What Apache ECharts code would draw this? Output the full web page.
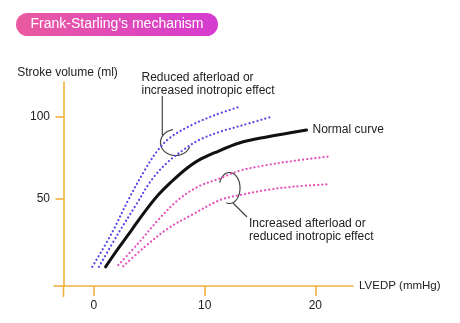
<!DOCTYPE html>
<html><head><meta charset="utf-8">
<script src="https://cdn.jsdelivr.net/npm/echarts@6/dist/echarts.min.js"></script>
<style>html,body{margin:0;padding:0;background:#fff}#c{width:460px;height:323px}</style>
</head><body><div id="c"></div>
<script>
const titleText = "Frank-Starling's mechanism";
const xAxisName = 'LVEDP (mmHg)';
const yAxisName = 'Stroke volume (ml)';
const xTicks = [0, 10, 20];
const yTicks = [50, 100];

const normalX = [1.05, 2.2, 3.4, 4.6, 5.8, 7.0, 8.2, 9.4, 10.9, 13.2, 15.6, 19.2];
const normalY = [8.7, 19.9, 31.1, 42.3, 52.4, 60.5, 67.7, 73.4, 78.2, 84.3, 87.8, 92.1];

const blueOuterX = [-0.15, 1.6, 3.1, 4.6, 5.8, 7.0, 8.84, 10.95, 13.2];
const blueOuterY = [8.7, 29.1, 49.4, 67.7, 80.0, 88.0, 95.1, 101.2, 106.3];

const blueInnerX = [0.45, 2.2, 3.7, 5.2, 6.7, 8.2, 9.5, 11.4, 13.2, 16.1];
const blueInnerY = [8.7, 29.1, 45.3, 61.6, 72.7, 80.5, 86.0, 91.0, 94.5, 100.2];

const pinkUpperX = [2.2, 4.0, 5.8, 7.6, 9.4, 11.4, 13.2, 15.6, 18.0, 21.1];
const pinkUpperY = [9.8, 23.0, 37.2, 49.4, 57.5, 62.6, 67.3, 70.7, 73.2, 75.8];

const pinkLowerX = [2.65, 4.6, 6.7, 8.8, 11.4, 13.2, 15.6, 18.0, 21.1];
const pinkLowerY = [9.1, 20.9, 32.1, 40.2, 49.4, 52.4, 55.5, 57.5, 59.0];

const normalLabel = 'Normal curve';
const upperNote = ['Reduced afterload or', 'increased inotropic effect'];
const lowerNote = ['Increased afterload or', 'reduced inotropic effect'];

function pairs(xs, ys) { return xs.map((x, i) => [x, ys[i]]); }

const AXIS = '#f0b13c';
const FONT = '"Liberation Sans", Arial, sans-serif';
const TXT = '#222';
const BLUE = '#5647e6';
const PINK = '#e54fb9';

function dotted(color, data) {
  return {
    type: 'line', data: data, showSymbol: false, smooth: 0.35, silent: true,
    lineStyle: { color: color, width: 2.2, type: [0.1, 4], cap: 'round' }
  };
}

const chart = echarts.init(document.getElementById('c'), null, { renderer: 'canvas' });
chart.setOption({
  animation: false,
  backgroundColor: '#fff',
  textStyle: { fontFamily: FONT },
  grid: { left: 63.5, right: 107, top: 82, bottom: 37 },
  xAxis: {
    type: 'value', min: -2.75, max: 23.4,
    axisLine: { show: true, onZero: false, lineStyle: { color: AXIS, width: 1.6 } },
    axisTick: { show: true, length: 10, customValues: xTicks, lineStyle: { color: AXIS, width: 1.6 } },
    axisLabel: { customValues: xTicks, margin: 14, color: TXT, fontSize: 12, fontFamily: FONT },
    splitLine: { show: false },
    name: xAxisName, nameLocation: 'end', nameGap: 6,
    nameTextStyle: { color: TXT, fontSize: 11.5, fontFamily: FONT, align: 'left', verticalAlign: 'middle' }
  },
  yAxis: {
    type: 'value', min: -3, max: 121.3,
    axisLine: { show: true, onZero: false, lineStyle: { color: AXIS, width: 1.6 } },
    axisTick: { show: true, length: 8, customValues: yTicks, lineStyle: { color: AXIS, width: 1.6 } },
    axisLabel: { customValues: yTicks, margin: 13.5, color: TXT, fontSize: 12, fontFamily: FONT },
    splitLine: { show: false },
    name: yAxisName, nameLocation: 'end', nameGap: 9.5,
    nameTextStyle: { color: TXT, fontSize: 12, fontFamily: FONT, align: 'center', verticalAlign: 'middle', padding: [0, 0, 0, 8] }
  },
  series: [
    dotted(BLUE, pairs(blueOuterX, blueOuterY)),
    dotted(BLUE, pairs(blueInnerX, blueInnerY)),
    dotted(PINK, pairs(pinkUpperX, pinkUpperY)),
    dotted(PINK, pairs(pinkLowerX, pinkLowerY)),
    {
      type: 'line', data: pairs(normalX, normalY), showSymbol: false, smooth: 0.35, silent: true,
      lineStyle: { color: '#111', width: 3, cap: 'round' },
      endLabel: { show: true, formatter: normalLabel, distance: 6, color: TXT, fontSize: 12, fontFamily: FONT }
    }
  ]
});

function ellipsePts(cx, cy, rx, ry, a0, a1) {
  const pts = [];
  for (let a = a0; a <= a1 + 0.01; a += 4) {
    const r = a * Math.PI / 180;
    pts.push([cx + rx * Math.cos(r), cy + ry * Math.sin(r)]);
  }
  return pts;
}

const corner = chart.convertToPixel({ gridIndex: 0 }, [-2.75, -3]);
const ink = { stroke: '#444', lineWidth: 1.2, fill: null };
const axisInk = { stroke: AXIS, lineWidth: 1.6 };

chart.setOption({
  graphic: [
    {
      type: 'rect', shape: { x: 16, y: 13, width: 202, height: 23, r: 11.5 },
      style: { fill: new echarts.graphic.LinearGradient(0, 0, 1, 0, [
        { offset: 0, color: '#ea5a9f' }, { offset: 1, color: '#d53bd0' }]) }
    },
    {
      type: 'text', x: 117, y: 24.5,
      style: { text: titleText, fill: '#fff', font: '14px ' + FONT, textAlign: 'center', textVerticalAlign: 'middle' }
    },
    { type: 'line', shape: { x1: corner[0] - 10, y1: corner[1], x2: corner[0], y2: corner[1] }, style: axisInk },
    { type: 'line', shape: { x1: corner[0], y1: corner[1], x2: corner[0], y2: corner[1] + 11 }, style: axisInk },
    { type: 'polyline', shape: { points: ellipsePts(175.5, 142.5, 15, 13, 20, 262) }, style: ink },
    { type: 'line', shape: { x1: 162.3, y1: 96, x2: 162.3, y2: 135.5 }, style: ink },
    { type: 'polyline', shape: { points: ellipsePts(229.5, 188, 10.5, 15.5, 200, 468) }, style: ink },
    { type: 'line', shape: { x1: 233, y1: 203, x2: 247, y2: 217 }, style: ink },
    {
      type: 'text', x: 141.5, y: 71.5,
      style: { text: upperNote.join('\n'), fill: TXT, font: '12px ' + FONT, lineHeight: 12.5, textVerticalAlign: 'top' }
    },
    {
      type: 'text', x: 249, y: 217.5,
      style: { text: lowerNote.join('\n'), fill: TXT, font: '12px ' + FONT, lineHeight: 13, textVerticalAlign: 'top' }
    }
  ]
});
</script>
</body></html>
